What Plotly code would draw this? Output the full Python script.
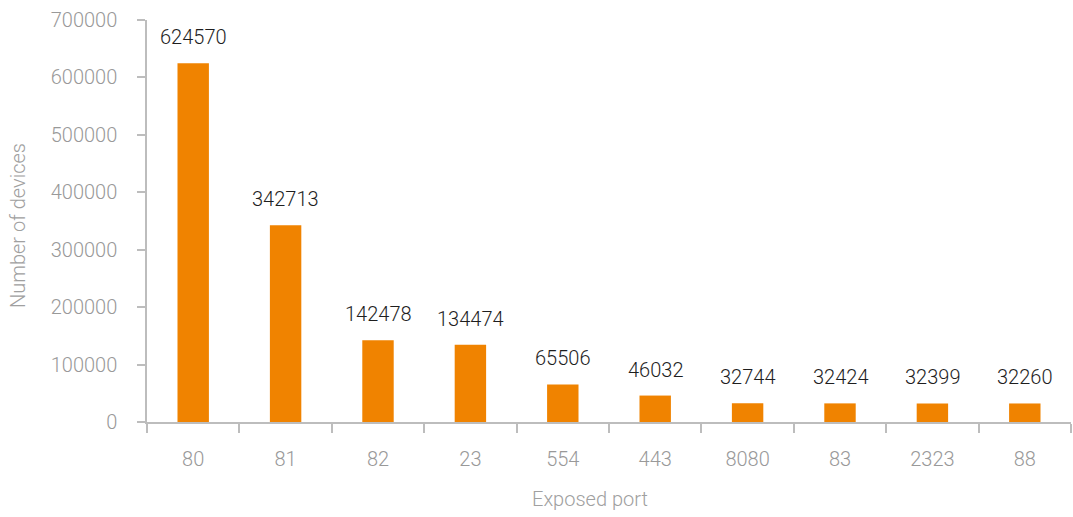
import plotly.graph_objects as go

ports = ["80", "81", "82", "23", "554", "443", "8080", "83", "2323", "88"]
devices = [624570, 342713, 142478, 134474, 65506, 46032, 32744, 32424, 32399, 32260]
y_ticks = [0, 100000, 200000, 300000, 400000, 500000, 600000, 700000]

axis_color = "#bdbdbd"
tick_font = dict(family="Roboto", size=20, color="#999999", weight=300)
title_font = dict(family="Roboto", size=20, color="#a0a0a0", weight=300)
value_font = dict(family="Roboto", size=20, color="#1e1e1e", weight=300)

fig = go.Figure(
    go.Bar(
        x=ports,
        y=devices,
        marker=dict(color="#F08300", line=dict(width=0)),
        width=0.34,
        hoverinfo="x+y",
    )
)

# value labels sitting above each bar (category axis -> index positions)
for i, value in enumerate(devices):
    fig.add_annotation(
        x=i,
        y=value,
        text=str(value),
        showarrow=False,
        yanchor="bottom",
        yshift=12,
        font=value_font,
    )

# axis captions
fig.add_annotation(
    xref="paper", yref="paper",
    x=0.479, y=0, yshift=-77,
    yanchor="middle",
    text="Exposed port",
    showarrow=False,
    font=title_font,
)
fig.add_annotation(
    xref="paper", yref="paper",
    x=0, y=0.5, xshift=-129, yshift=-5,
    xanchor="center", yanchor="middle",
    textangle=-90,
    text="Number of devices",
    showarrow=False,
    font=title_font,
)

fig.update_layout(
    width=1073,
    height=517,
    margin=dict(l=147, r=2, t=20, b=95),
    paper_bgcolor="white",
    plot_bgcolor="white",
    showlegend=False,
)

fig.update_xaxes(
    type="category",
    categoryorder="array",
    categoryarray=ports,
    showline=True,
    linecolor=axis_color,
    linewidth=1.5,
    ticks="outside",
    tickson="boundaries",
    ticklen=9,
    tickcolor=axis_color,
    tickwidth=1.5,
    tickfont=tick_font,
    ticklabelstandoff=18,
    tickangle=0,
    showgrid=False,
)

fig.update_yaxes(
    range=[0, 700000],
    tickvals=y_ticks,
    ticktext=[str(v) for v in y_ticks],
    showline=True,
    linecolor=axis_color,
    linewidth=1.5,
    ticks="outside",
    ticklen=8,
    tickcolor=axis_color,
    tickwidth=1.5,
    tickfont=tick_font,
    ticklabelstandoff=16,
    showgrid=False,
    zeroline=False,
)

fig.write_html("out.html")
